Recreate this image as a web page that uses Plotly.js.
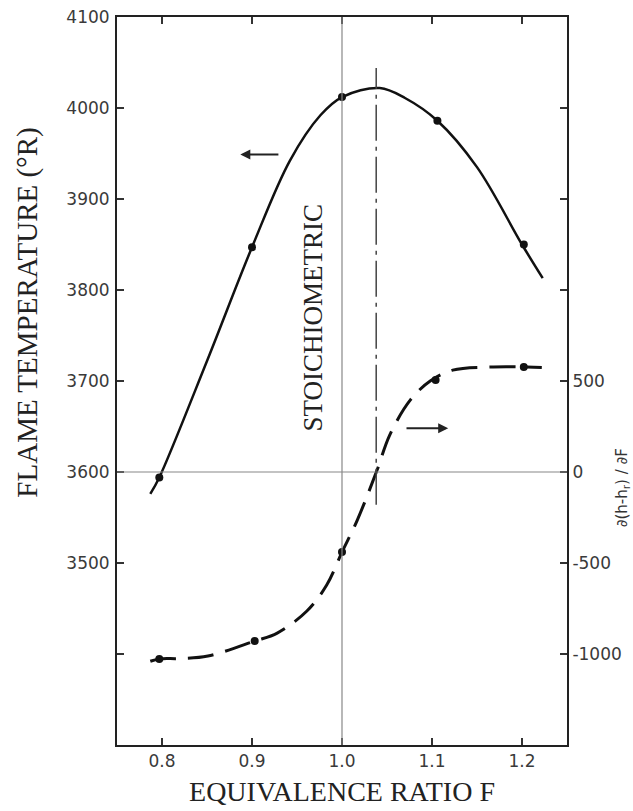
<!DOCTYPE html>
<html>
<head>
<meta charset="utf-8">
<script src="https://cdn.plot.ly/plotly-3.0.1.min.js"></script>
<style>html,body{margin:0;padding:0;background:#fff;}#chart{width:633px;height:811px;}</style>
</head>
<body>
<div id="chart"></div>
<script>
// Flame temperature curve (left axis, °R)
const tempCurveF = [0.787, 0.797, 0.85, 0.9, 0.942, 0.976, 1.0, 1.042, 1.07, 1.106, 1.15, 1.2, 1.223];
const tempCurveT = [3576, 3594, 3722, 3847, 3942, 3992, 4012, 4022, 4011, 3986, 3935, 3850, 3813];
const tempPointF = [0.797, 0.9, 1.0, 1.106, 1.202];
const tempPointT = [3594, 3847, 4012, 3986, 3850];

// Derivative curve (right axis)
const derivCurveF = [0.787, 0.797, 0.82, 0.851, 0.903, 0.928, 0.961, 0.983, 1.0, 1.017, 1.039, 1.053, 1.076, 1.098, 1.123, 1.168, 1.202, 1.222];
const derivCurveD = [-1040, -1027, -1025, -1011, -929, -885, -764, -621, -440, -264, 11, 203, 396, 500, 560, 577, 577, 574];
const derivPointF = [0.797, 0.903, 1.0, 1.104, 1.202];
const derivPointD = [-1027, -929, -440, 505, 577];

// Axis ticks
const xTicks = [0.8, 0.9, 1.0, 1.1, 1.2];
const xTickText = ['0.8', '0.9', '1.0', '1.1', '1.2'];
const yTicks = [3400, 3500, 3600, 3700, 3800, 3900, 4000, 4100];
const yTickText = ['', '3500', '3600', '3700', '3800', '3900', '4000', '4100'];
const y2Ticks = [-1000, -500, 0, 500, 1000, 1500, 2000];
const y2TickText = ['-1000', '-500', '0', '500', '', '', ''];

// Reference lines
const stoichF = 1.038;
const stoichLineT = [3564, 4044];
const refF = 1.0;
const refT = 3600;

const traces = [
  {x: tempCurveF, y: tempCurveT, mode: 'lines', line: {color: '#111', width: 2.5, shape: 'spline', smoothing: 1}, hoverinfo: 'skip'},
  {x: tempPointF, y: tempPointT, mode: 'markers', marker: {color: '#111', size: 8}},
  {x: derivCurveF, y: derivCurveD, yaxis: 'y2', mode: 'lines', line: {color: '#111', width: 3, dash: '26px,12px', shape: 'spline', smoothing: 1}},
  {x: derivPointF, y: derivPointD, yaxis: 'y2', mode: 'markers', marker: {color: '#111', size: 8}}
];

const tickFont = {family: 'DejaVu Sans', size: 17, color: '#3a3a3a'};
const serif = 'Liberation Serif';

const layout = {
  width: 633, height: 811,
  margin: {l: 117, r: 66, t: 17, b: 66},
  paper_bgcolor: '#fff', plot_bgcolor: '#fff',
  showlegend: false,
  xaxis: {
    range: [0.75, 1.25], tickvals: xTicks, ticktext: xTickText,
    ticks: 'inside', ticklen: 7, tickwidth: 1.5, tickcolor: '#333',
    showline: true, linewidth: 2, linecolor: '#222', mirror: 'ticks',
    showgrid: false, zeroline: false, tickfont: tickFont,
    title: {text: 'EQUIVALENCE RATIO F', font: {family: serif, size: 28, color: '#222'}, standoff: 11}
  },
  yaxis: {
    range: [3300, 4100], tickvals: yTicks, ticktext: yTickText,
    ticks: 'inside', ticklen: 7, tickwidth: 1.5, tickcolor: '#333',
    showline: true, linewidth: 2, linecolor: '#222',
    showgrid: false, zeroline: false, tickfont: tickFont, ticklabelstandoff: 2
  },
  yaxis2: {
    overlaying: 'y', side: 'right',
    range: [-1500, 2500], tickvals: y2Ticks, ticktext: y2TickText,
    ticks: 'inside', ticklen: 7, tickwidth: 1.5, tickcolor: '#333',
    showline: true, linewidth: 2, linecolor: '#222',
    showgrid: false, zeroline: false, tickfont: tickFont, ticklabelstandoff: 0
  },
  shapes: [
    {type: 'line', xref: 'x', yref: 'paper', x0: refF, x1: refF, y0: 0, y1: 1, line: {color: '#888', width: 1.2}},
    {type: 'line', xref: 'paper', yref: 'y', x0: 0, x1: 1, y0: refT, y1: refT, line: {color: '#888', width: 1.2}},
    {type: 'line', xref: 'x', yref: 'y', x0: stoichF, x1: stoichF, y0: stoichLineT[0], y1: stoichLineT[1], line: {color: '#444', width: 1.5, dash: '36px,6px,4px,6px'}}
  ],
  annotations: [
    {text: 'FLAME TEMPERATURE (°R)', xref: 'paper', yref: 'y', x: -0.198, y: 3775, textangle: -90, showarrow: false, font: {family: serif, size: 29, color: '#222'}, xanchor: 'center', yanchor: 'middle'},
    {text: '∂(h-h<sub>r</sub>) / ∂F', xref: 'paper', yref: 'y2', x: 1.124, y: -85, textangle: -90, showarrow: false, font: {family: 'DejaVu Sans', size: 15, color: '#333'}, xanchor: 'center', yanchor: 'middle'},
    {text: 'STOICHIOMETRIC', xref: 'x', yref: 'y', x: 0.968, y: 3770, textangle: -90, showarrow: false, font: {family: serif, size: 27, color: '#222'}, xanchor: 'center', yanchor: 'middle'},
    {text: ' ', xref: 'x', yref: 'y', x: 0.887, y: 3949, axref: 'x', ayref: 'y', ax: 0.931, ay: 3949, showarrow: true, arrowhead: 2, arrowsize: 1, arrowwidth: 2, arrowcolor: '#222', font: {size: 1}},
    {text: ' ', xref: 'x', yref: 'y2', x: 1.118, y: 240, axref: 'x', ayref: 'y2', ax: 1.070, ay: 240, showarrow: true, arrowhead: 2, arrowsize: 1, arrowwidth: 2, arrowcolor: '#222', font: {size: 1}}
  ]
};

Plotly.newPlot('chart', traces, layout, {staticPlot: true, displayModeBar: false});
</script>
</body>
</html>
